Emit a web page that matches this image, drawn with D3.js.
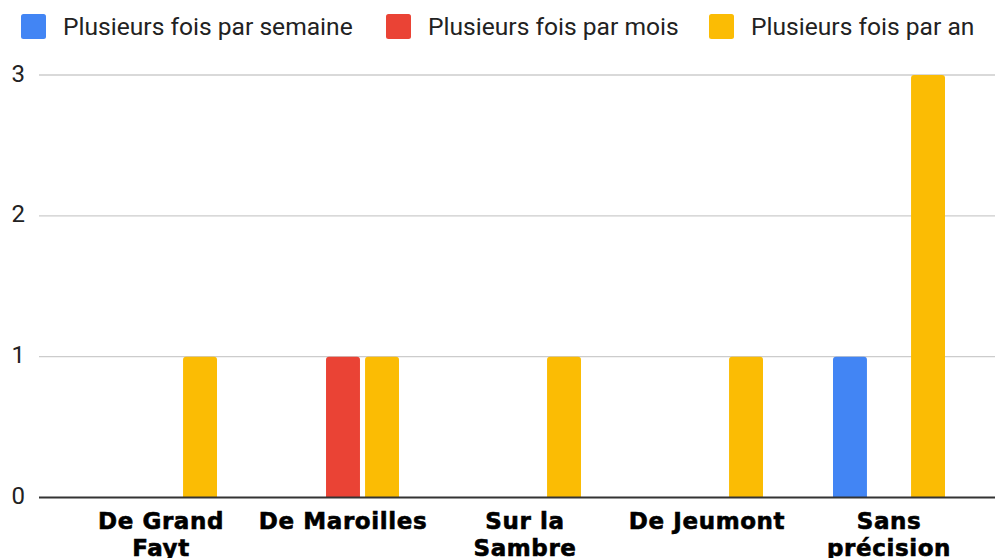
<!DOCTYPE html>
<html>
<head>
<meta charset="utf-8">
<script src="https://cdn.jsdelivr.net/npm/d3@7"></script>
<style>
  html, body { margin: 0; padding: 0; background: #fff; }
  svg { display: block; }
</style>
</head>
<body>
<svg id="chart" width="995" height="558"></svg>
<script>
// Categories along the x axis
const categories = ["De Grand Fayt", "De Maroilles", "Sur la Sambre", "De Jeumont", "Sans précision"];

// Series names and colours
const seriesNames = ["Plusieurs fois par semaine", "Plusieurs fois par mois", "Plusieurs fois par an"];
const seriesColors = ["#4285F4", "#EA4335", "#FBBC04"];

// Values per series, one per category
const parSemaine = [0, 0, 0, 0, 1];
const parMois    = [0, 1, 0, 0, 0];
const parAn      = [1, 1, 1, 1, 3];

// Y axis ticks
const yTicks = [0, 1, 2, 3];

const seriesValues = [parSemaine, parMois, parAn];

const svg = d3.select("#chart");

const plotLeft = 39, plotRight = 995;
const y = d3.scaleLinear().domain([0, 3]).range([497.5, 75]);
const x0 = d3.scaleBand().domain(categories).range([70, 980]).paddingInner(0);
const x1 = d3.scaleBand().domain(seriesNames).range([-56, 56]).paddingInner(0.13);

// Gridlines
svg.append("g").selectAll("line")
  .data(yTicks.filter(d => d !== 0))
  .join("line")
  .attr("x1", plotLeft).attr("x2", plotRight)
  .attr("y1", d => y(d)).attr("y2", d => y(d))
  .attr("stroke", "#cccccc").attr("stroke-width", 1.3);

// Y tick labels
svg.append("g").selectAll("text")
  .data(yTicks)
  .join("text")
  .attr("x", 25)
  .attr("y", d => y(d) + 6.5)
  .attr("text-anchor", "end")
  .attr("font-family", "Roboto, Arial, sans-serif")
  .attr("font-size", 24)
  .attr("fill", "#222")
  .text(d => d);

// Bars with rounded top corners
function barPath(x, yTop, w, yBase, r) {
  const h = yBase - yTop;
  if (h <= 0) return "";
  r = Math.min(r, h, w / 2);
  return `M${x},${yBase}V${yTop + r}Q${x},${yTop} ${x + r},${yTop}H${x + w - r}Q${x + w},${yTop} ${x + w},${yTop + r}V${yBase}Z`;
}

const barData = [];
seriesNames.forEach((s, si) => {
  categories.forEach((c, ci) => {
    barData.push({ series: s, cat: c, value: seriesValues[si][ci], color: seriesColors[si] });
  });
});

svg.append("g").selectAll("path")
  .data(barData.filter(d => d.value > 0))
  .join("path")
  .attr("d", d => {
    const cx = x0(d.cat) + x0.bandwidth() / 2;
    const bx = cx + x1(d.series);
    return barPath(bx, y(d.value), x1.bandwidth(), y(0), 3);
  })
  .attr("fill", d => d.color);

// Baseline
svg.append("line")
  .attr("x1", plotLeft).attr("x2", plotRight)
  .attr("y1", y(0)).attr("y2", y(0))
  .attr("stroke", "#333").attr("stroke-width", 2);

// X labels, wrapped to fit the band
const maxLabelWidth = 176;
const xLabels = svg.append("g").selectAll("text")
  .data(categories)
  .join("text")
  .attr("x", d => x0(d) + x0.bandwidth() / 2)
  .attr("y", 529)
  .attr("text-anchor", "middle")
  .attr("font-family", "'DejaVu Sans', sans-serif")
  .attr("font-weight", "bold")
  .attr("font-size", 23)
  .attr("letter-spacing", 0.6)
  .attr("fill", "#000")
  .attr("stroke", "#000")
  .attr("stroke-width", 0.6);

xLabels.each(function(d) {
  const text = d3.select(this);
  const cx = +text.attr("x");
  const words = d.split(" ");
  let line = [];
  let tspan = text.append("tspan").attr("x", cx).attr("dy", 0);
  words.forEach(w => {
    line.push(w);
    tspan.text(line.join(" "));
    if (tspan.node().getComputedTextLength() > maxLabelWidth && line.length > 1) {
      line.pop();
      tspan.text(line.join(" "));
      line = [w];
      tspan = text.append("tspan").attr("x", cx).attr("dy", 26.5).text(w);
    }
  });
});

// Legend
const legendX = [21, 386, 709];
const legend = svg.append("g").selectAll("g")
  .data(seriesNames)
  .join("g")
  .attr("transform", (d, i) => `translate(${legendX[i]},14)`);

legend.append("rect")
  .attr("width", 25).attr("height", 25)
  .attr("rx", 2.5)
  .attr("fill", (d, i) => seriesColors[i]);

legend.append("text")
  .attr("x", 42)
  .attr("y", 20.5)
  .attr("font-family", "Roboto, Arial, sans-serif")
  .attr("font-size", 24.6)
  .attr("fill", "#222")
  .text(d => d);
</script>
</body>
</html>
